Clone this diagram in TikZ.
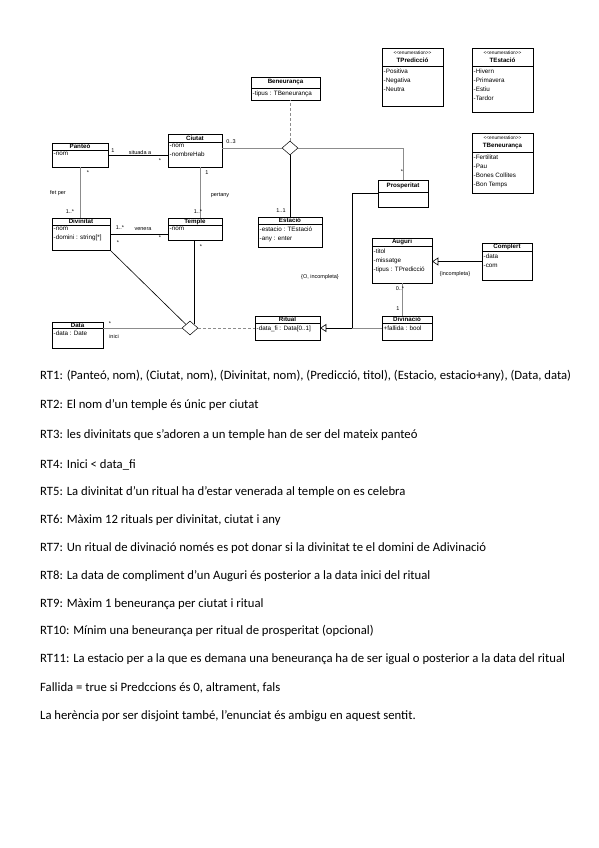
\documentclass[tikz,border=0pt]{standalone}
\usepackage{fontspec}
\setmainfont{Carlito}
\newfontfamily\diag{Liberation Sans}
\usetikzlibrary{shapes.geometric,arrows.meta,fit}
\newcommand\umlcls[8]{%
  \fill[black!30] (#2+1.2,#3+1.2) rectangle (#4+1.2,#5+1.2);
  \node[classbox, fit={(#2,#3) (#4,#5)}] (#1) {};
  \draw[line width=0.5pt] (#2,#6) -- (#4,#6);
  \node[ctitle] at ({(#2+#4)/2},{(#3+#6)/2}) {#7};
  \node[cattr] at (#2,#6) {#8};
}
\newcommand\enumhead[1]{{\mdseries\fontsize{4.8}{6}\selectfont <<enumeration>>}\\#1}
\begin{document}
\begin{tikzpicture}[x=1pt,y=-1pt,
  classbox/.style={draw, fill=white, inner sep=0pt, line width=0.5pt},
  ctitle/.style={font=\diag\bfseries\fontsize{6.2}{8}\selectfont, inner sep=0pt, align=center},
  cattr/.style={font=\diag\fontsize{6.3}{9}\selectfont, inner xsep=1.5pt, inner ysep=2.3pt, align=left, anchor=north west},
  mult/.style={font=\diag\fontsize{5.5}{6}\selectfont, inner sep=0pt},
  gline/.style={draw=black!45, line width=0.6pt},
  bline/.style={draw=black, line width=0.6pt},
  dline/.style={draw=black!45, line width=0.6pt, dash pattern=on 2.5pt off 2.5pt},
  diam/.style={diamond, draw, fill=white, line width=0.5pt, inner sep=0pt, minimum width=16pt, minimum height=14pt},
  gen/.style={-{Triangle[open, length=6pt, width=8pt]}},
  rt/.style={font=\fontsize{12.7}{15}\selectfont, anchor=west, inner sep=0pt}]
\fill[white] (0,0) rectangle (599,848);
\useasboundingbox (0,0) rectangle (599,848);

% enumerations
\umlcls{tpred}{382}{48}{443}{106}{66}{\enumhead{TPredicció}}{-Positiva\\-Negativa\\-Neutra}
\umlcls{test}{472}{48}{533}{112}{66}{\enumhead{TEstació}}{-Hivern\\-Primavera\\-Estiu\\-Tardor}
\umlcls{tben}{472}{133}{533}{193}{152}{\enumhead{TBeneurança}}{-Fertilitat\\-Pau\\-Bones Collites\\-Bon Temps}

% classes
\umlcls{bene}{251}{77}{320}{100}{88}{Beneurança}{-tipus : TBeneurança}
\umlcls{pant}{52}{143}{108}{167}{150}{Panteó}{-nom}
\umlcls{ciut}{168}{134}{222}{167}{142}{Ciutat}{-nom\\-nombreHab}
\umlcls{prosp}{378}{180}{428}{207}{192}{Prosperitat}{}
\umlcls{divi}{52}{218}{110}{250}{225}{Divinitat}{-nom\\-domini : string[*]}
\umlcls{temp}{168}{218}{222}{240}{225}{Temple}{-nom}
\umlcls{esta}{258}{217}{322}{247}{224}{Estació}{-estacio : TEstació\\-any : enter}
\umlcls{aug}{372}{238}{432}{283}{246}{Auguri}{-titol\\-missatge\\-tipus : TPredicció}
\umlcls{comp}{482}{243}{532}{280}{251}{Complert}{-data\\-com}
\umlcls{data}{52}{322}{103}{348}{328}{Data}{-data : Date}
\umlcls{rit}{255}{316}{320}{340}{323}{Ritual}{-data\_fi : Data[0..1]}
\umlcls{divn}{382}{316}{432}{340}{323}{Divinació}{+fallida : bool}

% diamonds
\node[diam] (d1) at (290,148) {};
\node[diam] (d2) at (190,328) {};
\coordinate (j) at (352,328);

% connectors
\draw[bline] (pant.east) -- (pant.east -| ciut.west);
\draw[gline] (pant.south) -- (pant.south |- divi.north);
\draw[gline] ([xshift=5pt]ciut.south) -- ([xshift=5pt]temp.north);
\draw[bline] (divi.east) -- (divi.east -| temp.west);
\draw[gline] (d1.west -| ciut.east) -- (d1.west);
\draw[gline] (d1.east) -| (prosp.north);
\draw[dline] (d1.north) -- (d1.north |- bene.south);
\draw[bline] (d1.south) -- (d1.south |- esta.north);
\draw[bline] (divi.south east) -- (d2.north west);
\draw[bline] (d2.north east |- temp.south) -- (d2.north east);
\draw[gline] (data.east |- d2.west) -- (d2.west);
\draw[dline] (d2.east) -- (d2.east -| rit.west);
\draw[bline, gen] (prosp.west) -| (j) -- (rit.east);
\draw[gline] (divn.west) -- (j);
\draw[bline, gen] (comp.west) -- (comp.west -| aug.east);
\draw[gline] (aug.south) -- (aug.south |- divn.north);

% labels
\node[mult] (l1) at (113,151) {1};
\node[mult] (l2) at (140,153) {situada a};
\node[mult] (l3) at (160,161) {*};
\node[mult] (l4) at (231,142) {0..3};
\node[mult] (l5) at (88,173) {*};
\node[mult] (l6) at (58,193) {fet per};
\node[mult] (l7) at (70,212) {1..*};
\node[mult] (l8) at (207,173) {1};
\node[mult] (l9) at (220,195) {pertany};
\node[mult] (l10) at (198,212) {1..*};
\node[mult] (l11) at (120,228) {1..*};
\node[mult] (l12) at (143,229) {venera};
\node[mult] (l13) at (160,238) {*};
\node[mult] (l14) at (118,243) {*};
\node[mult] (l15) at (201,247) {*};
\node[mult] (l16) at (281,211) {1..1};
\node[mult] (l17) at (402,172) {*};
\node[mult] (l18) at (110,324) {*};
\node[mult] (l19) at (114,337) {inici};
\node[mult] (l20) at (320,277) {\{O, incompleta\}};
\node[mult] (l21) at (455,274) {\{incompleta\}};
\node[mult] (l22) at (400,289) {0..*};
\node[mult] (l23) at (398,309) {1};

% text
\node[rt] (rt1) at (40,376) {RT1: (Panteó, nom), (Ciutat, nom), (Divinitat, nom), (Predicció, titol), (Estacio, estacio+any), (Data, data)};
\node[rt] (rt2) at (40,405) {RT2: El nom d'un temple és únic per ciutat};
\node[rt] (rt3) at (40,435) {RT3: les divinitats que s'adoren a un temple han de ser del mateix panteó};
\node[rt] (rt4) at (40,465) {RT4: Inici < data\_fi};
\node[rt] (rt5) at (40,492) {RT5: La divinitat d'un ritual ha d'estar venerada al temple on es celebra};
\node[rt] (rt6) at (40,520) {RT6: Màxim 12 rituals per divinitat, ciutat i any};
\node[rt] (rt7) at (40,548) {RT7: Un ritual de divinació només es pot donar si la divinitat te el domini de Adivinació};
\node[rt] (rt8) at (40,576) {RT8: La data de compliment d'un Auguri és posterior a la data inici del ritual};
\node[rt] (rt9) at (40,604) {RT9: Màxim 1 beneurança per ciutat i ritual};
\node[rt] (rt10) at (40,631) {RT10: Mínim una beneurança per ritual de prosperitat (opcional)};
\node[rt] (rt11) at (40,659) {RT11: La estacio per a la que es demana una beneurança ha de ser igual o posterior a la data del ritual};
\node[rt] (rt12) at (40,688) {Fallida = true si Predccions és 0, altrament, fals};
\node[rt] (rt13) at (40,716) {La herència por ser disjoint també, l'enunciat és ambigu en aquest sentit.};
\end{tikzpicture}
\end{document}
